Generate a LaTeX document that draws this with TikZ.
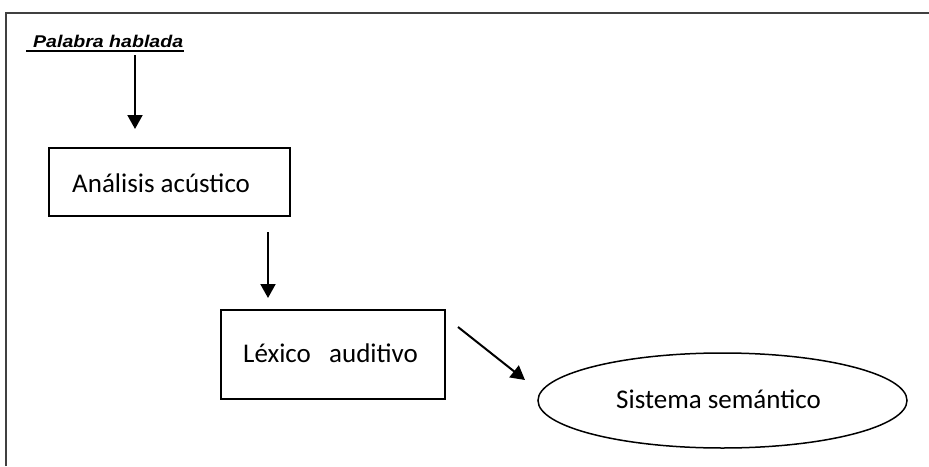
\documentclass[tikz,border=0pt]{standalone}
\usepackage{fontspec}
\setmainfont{Carlito}
\newfontfamily\arialfont{Liberation Sans}
\usetikzlibrary{arrows.meta,shapes.geometric}
\tikzset{
  frame/.style={draw=black!75, line width=1.3pt},
  boxnode/.style={draw=black, line width=1.3pt, inner sep=0pt},
  ellnode/.style={ellipse, draw=black, line width=1.5pt, inner sep=0pt},
  lbl/.style={font=\fontsize{27}{32}\selectfont, inner sep=0pt, anchor=base west},
  flow/.style={line width=2pt, -{Triangle[length=14pt,width=15pt]}},
}
\begin{document}
\begin{tikzpicture}[x=1pt,y=-1pt]
\useasboundingbox (0,0) rectangle (929,466);
% frame
\draw[frame] (6,466) -- (6,13) -- (929,13);
% title
\node[inner sep=0pt, anchor=base west, font=\arialfont\bfseries\itshape\fontsize{17}{20}\selectfont] (title) at (33,47) {\scalebox{1.15}[1]{Palabra hablada}};
\coordinate (ulA) at (26,51);
\coordinate (ulB) at (184,51);
\draw[line width=1.6pt] (ulA) -- (ulB);
% boxes
\node[boxnode, minimum width=241pt, minimum height=68pt] (b1) at (169.5,182) {};
\node[lbl] (t1) at (72,192) {Análisis acústico};
\node[boxnode, minimum width=224pt, minimum height=89pt] (b2) at (333,354.5) {};
\node[lbl] (t2) at (243,362) {Léxico\ \ \ auditivo};
\node[ellnode, minimum width=369pt, minimum height=95pt] (e1) at (722.5,400.5) {};
\node[lbl, anchor=base] (t3) at (718.5,408) {Sistema semántico};
% arrows
\coordinate (a1s) at (135,55);
\coordinate (a1e) at (135,129);
\coordinate (a2s) at (268,232);
\coordinate (a2e) at (268,298);
\coordinate (a3s) at (458,327);
\coordinate (a3e) at (525,380);
\draw[flow] (a1s) -- (a1e);
\draw[flow] (a2s) -- (a2e);
\draw[flow] (a3s) -- (a3e);
\end{tikzpicture}
\end{document}
